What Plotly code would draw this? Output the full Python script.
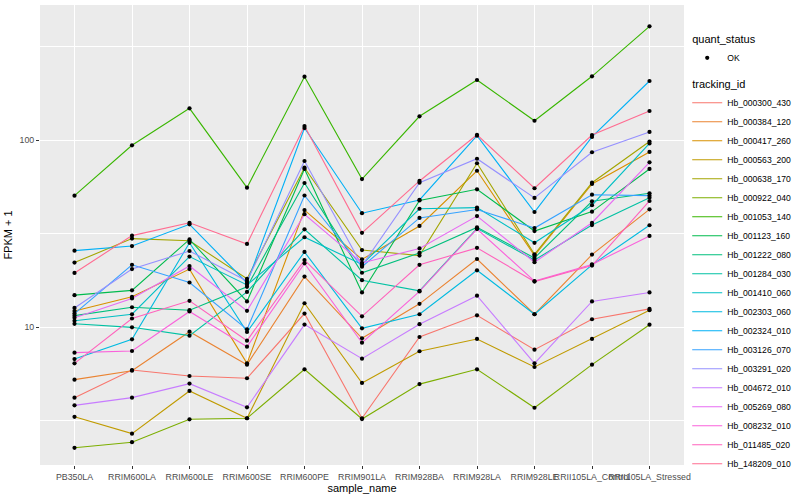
import plotly.graph_objects as go

categories = ["PB350LA", "RRIM600LA", "RRIM600LE", "RRIM600SE", "RRIM600PE",
              "RRIM901LA", "RRIM928BA", "RRIM928LA", "RRIM928LE",
              "RRII105LA_Control", "RRII105LA_Stressed"]

y_tick_vals = [10, 100]
y_tick_text = ["10", "100"]

Hb_000300_430 = [4.19, 5.89, 5.47, 5.32, 11.8, 3.25, 8.84, 11.55, 7.56, 11.0, 12.5]
Hb_000384_120 = [5.23, 5.84, 9.44, 6.29, 18.6, 8.70, 13.3, 23.1, 11.7, 24.4, 42.6]
Hb_000417_260 = [12.18, 14.5, 20.4, 6.39, 42.2, 23.0, 34.7, 68.5, 24.1, 58.2, 86.3]
Hb_000563_200 = [3.31, 2.69, 4.55, 3.25, 13.4, 5.02, 7.42, 8.63, 6.11, 8.63, 12.3]
Hb_000638_170 = [22.1, 29.7, 28.9, 18.1, 71.1, 25.8, 24.1, 75.1, 24.5, 59.1, 98.2]
Hb_000922_040 = [2.26, 2.42, 3.21, 3.25, 5.94, 3.22, 4.95, 5.94, 3.70, 6.29, 10.29]
Hb_001053_140 = [50.4, 93.7, 147.7, 55.6, 218.1, 61.8, 133.9, 209.4, 126.8, 219.1, 405.5]
Hb_001123_160 = [14.8, 15.7, 29.4, 13.7, 70.0, 15.3, 47.5, 54.5, 32.6, 41.4, 70.0]
Hb_001222_080 = [11.5, 12.75, 12.3, 16.4, 58.9, 19.5, 24.9, 34.1, 23.4, 47.0, 51.9]
Hb_001284_030 = [10.4, 9.96, 8.99, 15.4, 33.3, 17.8, 15.6, 33.7, 22.8, 35.1, 49.1]
Hb_001410_060 = [10.8, 11.7, 23.8, 16.8, 30.2, 21.6, 42.9, 43.5, 28.2, 44.8, 95.8]
Hb_002303_060 = [6.74, 8.59, 28.2, 9.40, 25.2, 9.84, 11.7, 20.1, 11.7, 21.5, 35.0]
Hb_002324_010 = [25.6, 27.1, 35.4, 17.2, 115.9, 40.6, 47.8, 105.4, 41.2, 103.8, 206.8]
Hb_003126_070 = [11.8, 21.5, 17.3, 9.72, 50.5, 21.0, 38.3, 42.5, 33.8, 51.0, 50.4]
Hb_003291_020 = [12.64, 20.4, 25.5, 17.6, 77.2, 21.3, 59.1, 79.4, 49.0, 86.0, 110.4]
Hb_004672_010 = [3.81, 4.19, 4.98, 3.72, 10.3, 6.77, 10.35, 14.7, 6.39, 13.7, 15.3]
Hb_005269_080 = [11.2, 14.2, 21.2, 12.2, 40.1, 22.0, 26.3, 39.2, 22.2, 36.1, 76.0]
Hb_008232_010 = [7.29, 7.44, 12.1, 7.85, 21.9, 8.24, 15.5, 33.4, 17.6, 21.6, 30.7]
Hb_011485_020 = [6.39, 11.1, 13.8, 8.45, 22.8, 11.4, 21.5, 26.5, 17.5, 21.3, 47.2]
Hb_148209_010 = [19.45, 30.8, 36.1, 27.8, 118.8, 31.9, 60.4, 106.7, 55.2, 106.3, 142.9]

series = [
    ("Hb_000300_430", Hb_000300_430), ("Hb_000384_120", Hb_000384_120),
    ("Hb_000417_260", Hb_000417_260), ("Hb_000563_200", Hb_000563_200),
    ("Hb_000638_170", Hb_000638_170), ("Hb_000922_040", Hb_000922_040),
    ("Hb_001053_140", Hb_001053_140), ("Hb_001123_160", Hb_001123_160),
    ("Hb_001222_080", Hb_001222_080), ("Hb_001284_030", Hb_001284_030),
    ("Hb_001410_060", Hb_001410_060), ("Hb_002303_060", Hb_002303_060),
    ("Hb_002324_010", Hb_002324_010), ("Hb_003126_070", Hb_003126_070),
    ("Hb_003291_020", Hb_003291_020), ("Hb_004672_010", Hb_004672_010),
    ("Hb_005269_080", Hb_005269_080), ("Hb_008232_010", Hb_008232_010),
    ("Hb_011485_020", Hb_011485_020), ("Hb_148209_010", Hb_148209_010),
]

palette = ["#F8766D", "#EA8331", "#D89000", "#C09B00", "#A3A500", "#7CAE00",
           "#39B600", "#00BB4E", "#00BF7D", "#00C1A3", "#00BFC4", "#00BAE0",
           "#00B0F6", "#35A2FF", "#9590FF", "#C77CFF", "#E76BF3", "#FA62DB",
           "#FF62BC", "#FF6C91"]

FONT = "Liberation Sans, Arial, Helvetica, sans-serif"

fig = go.Figure()

for i, (name, vals) in enumerate(series):
    fig.add_trace(go.Scatter(
        x=categories, y=vals, mode="lines", name=name,
        line=dict(color=palette[i], width=1.1),
        legendgroup="tracking_id",
        legendgrouptitle=dict(text="tracking_id", font=dict(size=11, color="black")),
        legendrank=10 + i,
    ))

all_x = []
all_y = []
for name, vals in series:
    all_x.extend(categories)
    all_y.extend(vals)

fig.add_trace(go.Scatter(
    x=all_x, y=all_y, mode="markers", name="OK",
    marker=dict(color="black", size=4.2),
    legendgroup="quant_status",
    legendgrouptitle=dict(text="quant_status", font=dict(size=11, color="black")),
    legendrank=1,
))

fig.update_layout(
    width=800, height=500, autosize=False,
    margin=dict(l=40, r=116, t=5, b=35, autoexpand=False),
    paper_bgcolor="white", plot_bgcolor="#EBEBEB",
    font=dict(family=FONT, size=9, color="black"),
    legend=dict(
        x=1.005, xanchor="left", y=0.958, yanchor="top",
        font=dict(size=8.6, color="black"),
        itemwidth=30, tracegroupgap=7, traceorder="grouped",
        bgcolor="rgba(0,0,0,0)",
    ),
    xaxis=dict(
        type="category", categoryorder="array", categoryarray=categories,
        range=[-0.6, 10.6], showgrid=True, gridcolor="white", gridwidth=1.1,
        zeroline=False, showline=False, automargin=False,
        ticks="outside", ticklen=3, tickcolor="#333333", tickwidth=1,
        tickangle=0, tickfont=dict(size=8.8, color="#4D4D4D"),
        title=dict(text="sample_name", font=dict(size=11, color="black"), standoff=2),
    ),
    yaxis=dict(
        type="log", range=[0.262, 2.722],
        tickvals=y_tick_vals, ticktext=y_tick_text,
        showgrid=True, gridcolor="white", gridwidth=1.1,
        zeroline=False, showline=False, automargin=False,
        ticks="outside", ticklen=3, tickcolor="#333333", tickwidth=1,
        tickfont=dict(size=8.8, color="#4D4D4D"),
        minor=dict(tickvals=[3.162, 31.62, 316.2], showgrid=True,
                   gridcolor="white", gridwidth=0.5, ticks=""),
        title=dict(text="FPKM + 1", font=dict(size=11, color="black"), standoff=4),
    ),
)

fig.write_html("out.html", config={"displayModeBar": False},
               post_script="document.body.style.margin='0px';")
